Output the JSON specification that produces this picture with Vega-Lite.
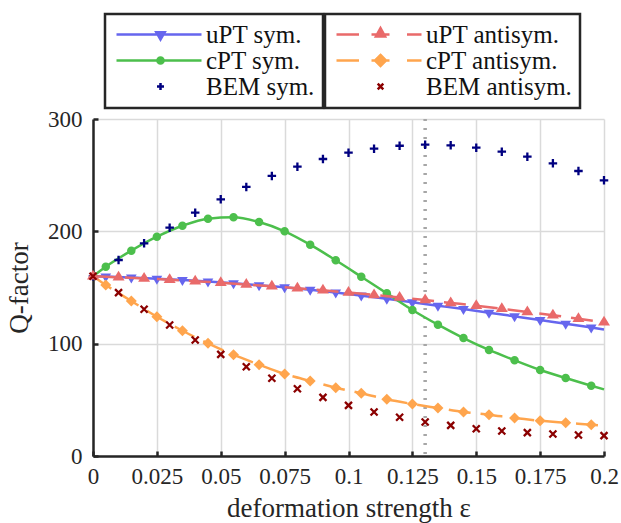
{
  "$schema": "https://vega.github.io/schema/vega-lite/v6.json",
  "width": 511,
  "height": 337,
  "autosize": {"type": "none"},
  "padding": {"left": 93, "top": 119, "right": 17, "bottom": 67},
  "background": "white",
  "config": {
    "font": "Liberation Serif, DejaVu Serif, serif",
    "view": {"stroke": null},
    "axis": {
      "labelFont": "Liberation Serif, DejaVu Serif, serif", "labelFontSize": 23, "labelColor": "#262626",
      "titleFont": "Liberation Serif, DejaVu Serif, serif", "titleFontSize": 27, "titleFontWeight": "normal", "titleColor": "#262626",
      "gridColor": "#dadada", "gridWidth": 1.5, "gridOpacity": 1,
      "domainColor": "#262626", "domainWidth": 2.5,
      "tickColor": "#262626", "tickWidth": 2.5, "tickSize": -5,
      "labelFlush": false, "labelOverlap": false
    },
    "axisX": {"labelPadding": 14, "titlePadding": 7},
    "axisY": {"labelPadding": 16, "titlePadding": 14},
    "legend": {
      "title": null, "orient": "none", "padding": 8, "strokeColor": "#262626", "strokeWidth": 2.5, "fillColor": "white",
      "labelFont": "Liberation Serif, DejaVu Serif, serif", "labelFontSize": 25, "labelColor": "#111111",
      "labelOffset": 68, "rowPadding": 0, "symbolSize": 400, "symbolStrokeWidth": 2.5, "symbolOpacity": 1, "labelLimit": 0
    }
  },
  "datasets": {
    "marker": [{"eps": 0.13}],
    "model": [
      {"series": "uPT sym.", "eps": 0, "Q": 160},
      {"series": "uPT sym.", "eps": 0.005, "Q": 159.7},
      {"series": "uPT sym.", "eps": 0.015, "Q": 158.8},
      {"series": "uPT sym.", "eps": 0.025, "Q": 157.8},
      {"series": "uPT sym.", "eps": 0.035, "Q": 156.6},
      {"series": "uPT sym.", "eps": 0.045, "Q": 155.3},
      {"series": "uPT sym.", "eps": 0.055, "Q": 153.8},
      {"series": "uPT sym.", "eps": 0.065, "Q": 152.1},
      {"series": "uPT sym.", "eps": 0.075, "Q": 150.2},
      {"series": "uPT sym.", "eps": 0.085, "Q": 148.1},
      {"series": "uPT sym.", "eps": 0.095, "Q": 145.6},
      {"series": "uPT sym.", "eps": 0.105, "Q": 142.8},
      {"series": "uPT sym.", "eps": 0.115, "Q": 139.9},
      {"series": "uPT sym.", "eps": 0.125, "Q": 136.8},
      {"series": "uPT sym.", "eps": 0.135, "Q": 133.8},
      {"series": "uPT sym.", "eps": 0.145, "Q": 130.8},
      {"series": "uPT sym.", "eps": 0.155, "Q": 127.6},
      {"series": "uPT sym.", "eps": 0.165, "Q": 124.3},
      {"series": "uPT sym.", "eps": 0.175, "Q": 121.0},
      {"series": "uPT sym.", "eps": 0.185, "Q": 117.8},
      {"series": "uPT sym.", "eps": 0.195, "Q": 114.4},
      {"series": "uPT sym.", "eps": 0.2, "Q": 112.7},
      {"series": "cPT sym.", "eps": 0, "Q": 160},
      {"series": "cPT sym.", "eps": 0.005, "Q": 168.5},
      {"series": "cPT sym.", "eps": 0.015, "Q": 182.8},
      {"series": "cPT sym.", "eps": 0.025, "Q": 195.2},
      {"series": "cPT sym.", "eps": 0.035, "Q": 205.0},
      {"series": "cPT sym.", "eps": 0.045, "Q": 211.3},
      {"series": "cPT sym.", "eps": 0.055, "Q": 212.5},
      {"series": "cPT sym.", "eps": 0.065, "Q": 208.3},
      {"series": "cPT sym.", "eps": 0.075, "Q": 200.0},
      {"series": "cPT sym.", "eps": 0.085, "Q": 188.1},
      {"series": "cPT sym.", "eps": 0.095, "Q": 174.2},
      {"series": "cPT sym.", "eps": 0.105, "Q": 159.6},
      {"series": "cPT sym.", "eps": 0.115, "Q": 144.8},
      {"series": "cPT sym.", "eps": 0.125, "Q": 130.0},
      {"series": "cPT sym.", "eps": 0.135, "Q": 116.9},
      {"series": "cPT sym.", "eps": 0.145, "Q": 105.0},
      {"series": "cPT sym.", "eps": 0.155, "Q": 94.4},
      {"series": "cPT sym.", "eps": 0.165, "Q": 85.2},
      {"series": "cPT sym.", "eps": 0.175, "Q": 76.6},
      {"series": "cPT sym.", "eps": 0.185, "Q": 69.4},
      {"series": "cPT sym.", "eps": 0.195, "Q": 62.6},
      {"series": "cPT sym.", "eps": 0.2, "Q": 59.3},
      {"series": "uPT antisym.", "eps": 0, "Q": 160},
      {"series": "uPT antisym.", "eps": 0.01, "Q": 159.1},
      {"series": "uPT antisym.", "eps": 0.02, "Q": 158.1},
      {"series": "uPT antisym.", "eps": 0.03, "Q": 156.9},
      {"series": "uPT antisym.", "eps": 0.04, "Q": 155.6},
      {"series": "uPT antisym.", "eps": 0.05, "Q": 154.3},
      {"series": "uPT antisym.", "eps": 0.06, "Q": 152.7},
      {"series": "uPT antisym.", "eps": 0.07, "Q": 151.1},
      {"series": "uPT antisym.", "eps": 0.08, "Q": 149.4},
      {"series": "uPT antisym.", "eps": 0.09, "Q": 147.5},
      {"series": "uPT antisym.", "eps": 0.1, "Q": 145.5},
      {"series": "uPT antisym.", "eps": 0.11, "Q": 143.4},
      {"series": "uPT antisym.", "eps": 0.12, "Q": 141.2},
      {"series": "uPT antisym.", "eps": 0.13, "Q": 138.8},
      {"series": "uPT antisym.", "eps": 0.14, "Q": 136.3},
      {"series": "uPT antisym.", "eps": 0.15, "Q": 133.8},
      {"series": "uPT antisym.", "eps": 0.16, "Q": 131.0},
      {"series": "uPT antisym.", "eps": 0.17, "Q": 128.2},
      {"series": "uPT antisym.", "eps": 0.18, "Q": 125.3},
      {"series": "uPT antisym.", "eps": 0.19, "Q": 122.2},
      {"series": "uPT antisym.", "eps": 0.2, "Q": 119.0},
      {"series": "cPT antisym.", "eps": 0, "Q": 160},
      {"series": "cPT antisym.", "eps": 0.005, "Q": 152.2},
      {"series": "cPT antisym.", "eps": 0.015, "Q": 138.0},
      {"series": "cPT antisym.", "eps": 0.025, "Q": 124.0},
      {"series": "cPT antisym.", "eps": 0.035, "Q": 111.5},
      {"series": "cPT antisym.", "eps": 0.045, "Q": 100.3},
      {"series": "cPT antisym.", "eps": 0.055, "Q": 90.2},
      {"series": "cPT antisym.", "eps": 0.065, "Q": 81.3},
      {"series": "cPT antisym.", "eps": 0.075, "Q": 73.0},
      {"series": "cPT antisym.", "eps": 0.085, "Q": 66.8},
      {"series": "cPT antisym.", "eps": 0.095, "Q": 60.8},
      {"series": "cPT antisym.", "eps": 0.105, "Q": 55.8},
      {"series": "cPT antisym.", "eps": 0.115, "Q": 50.5},
      {"series": "cPT antisym.", "eps": 0.125, "Q": 46.3},
      {"series": "cPT antisym.", "eps": 0.135, "Q": 42.7},
      {"series": "cPT antisym.", "eps": 0.145, "Q": 39.2},
      {"series": "cPT antisym.", "eps": 0.155, "Q": 36.8},
      {"series": "cPT antisym.", "eps": 0.165, "Q": 33.8},
      {"series": "cPT antisym.", "eps": 0.175, "Q": 31.4},
      {"series": "cPT antisym.", "eps": 0.185, "Q": 29.6},
      {"series": "cPT antisym.", "eps": 0.195, "Q": 27.9},
      {"series": "cPT antisym.", "eps": 0.2, "Q": 27.0}
    ],
    "bem": [
      {"series": "BEM sym.", "eps": 0, "Q": 160},
      {"series": "BEM sym.", "eps": 0.01, "Q": 174.5},
      {"series": "BEM sym.", "eps": 0.02, "Q": 189.3},
      {"series": "BEM sym.", "eps": 0.03, "Q": 203.3},
      {"series": "BEM sym.", "eps": 0.04, "Q": 216.6},
      {"series": "BEM sym.", "eps": 0.05, "Q": 228.5},
      {"series": "BEM sym.", "eps": 0.06, "Q": 239.5},
      {"series": "BEM sym.", "eps": 0.07, "Q": 249.3},
      {"series": "BEM sym.", "eps": 0.08, "Q": 257.6},
      {"series": "BEM sym.", "eps": 0.09, "Q": 264.4},
      {"series": "BEM sym.", "eps": 0.1, "Q": 270.0},
      {"series": "BEM sym.", "eps": 0.11, "Q": 273.6},
      {"series": "BEM sym.", "eps": 0.12, "Q": 276.2},
      {"series": "BEM sym.", "eps": 0.13, "Q": 277.1},
      {"series": "BEM sym.", "eps": 0.14, "Q": 276.6},
      {"series": "BEM sym.", "eps": 0.15, "Q": 274.5},
      {"series": "BEM sym.", "eps": 0.16, "Q": 270.9},
      {"series": "BEM sym.", "eps": 0.17, "Q": 266.5},
      {"series": "BEM sym.", "eps": 0.18, "Q": 260.5},
      {"series": "BEM sym.", "eps": 0.19, "Q": 253.7},
      {"series": "BEM sym.", "eps": 0.2, "Q": 245.4},
      {"series": "BEM antisym.", "eps": 0, "Q": 160},
      {"series": "BEM antisym.", "eps": 0.01, "Q": 145.4},
      {"series": "BEM antisym.", "eps": 0.02, "Q": 130.6},
      {"series": "BEM antisym.", "eps": 0.03, "Q": 116.6},
      {"series": "BEM antisym.", "eps": 0.04, "Q": 103.3},
      {"series": "BEM antisym.", "eps": 0.05, "Q": 90.5},
      {"series": "BEM antisym.", "eps": 0.06, "Q": 79.5},
      {"series": "BEM antisym.", "eps": 0.07, "Q": 69.2},
      {"series": "BEM antisym.", "eps": 0.08, "Q": 59.9},
      {"series": "BEM antisym.", "eps": 0.09, "Q": 52.2},
      {"series": "BEM antisym.", "eps": 0.1, "Q": 45.1},
      {"series": "BEM antisym.", "eps": 0.11, "Q": 39.2},
      {"series": "BEM antisym.", "eps": 0.12, "Q": 34.5},
      {"series": "BEM antisym.", "eps": 0.13, "Q": 30.3},
      {"series": "BEM antisym.", "eps": 0.14, "Q": 27.3},
      {"series": "BEM antisym.", "eps": 0.15, "Q": 24.3},
      {"series": "BEM antisym.", "eps": 0.16, "Q": 22.3},
      {"series": "BEM antisym.", "eps": 0.17, "Q": 20.8},
      {"series": "BEM antisym.", "eps": 0.18, "Q": 19.6},
      {"series": "BEM antisym.", "eps": 0.19, "Q": 18.7},
      {"series": "BEM antisym.", "eps": 0.2, "Q": 18.1}
    ]
  },
  "encoding": {
    "x": {"field": "eps", "type": "quantitative", "title": "deformation strength ε", "scale": {"domain": [0, 0.2], "nice": false}, "axis": {"values": [0, 0.025, 0.05, 0.075, 0.1, 0.125, 0.15, 0.175, 0.2], "format": ".4~g"}},
    "y": {"field": "Q", "type": "quantitative", "title": "Q-factor", "scale": {"domain": [0, 300], "nice": false}, "axis": {"values": [0, 100, 200, 300]}},
    "color": {"field": "series", "type": "nominal", "legend": null, "scale": {"domain": ["uPT sym.", "cPT sym.", "BEM sym.", "uPT antisym.", "cPT antisym.", "BEM antisym."], "range": ["#6666ee", "#4cbf4c", "#000080", "#e96a6a", "#ffa54d", "#8b0000"]}}
  },
  "layer": [
    {
      "data": {"name": "marker"},
      "mark": {"type": "rule", "color": "#a6a6a6", "strokeWidth": 3.5, "strokeDash": [2, 7]},
      "encoding": {"y": null, "color": null}
    },
    {
      "data": {"name": "model"},
      "transform": [{"filter": "datum.series === 'uPT sym.' || datum.series === 'cPT sym.'"}],
      "mark": {"type": "line", "strokeWidth": 2.5, "interpolate": "monotone"}
    },
    {
      "data": {"name": "model"},
      "transform": [{"filter": "datum.series === 'uPT sym.' && datum.eps > 0.001 && datum.eps < 0.1999"}],
      "mark": {"type": "point", "filled": true, "size": 100, "opacity": 1, "strokeWidth": 0, "shape": "M-1.07,-0.6L1.07,-0.6L0,1.2Z"}
    },
    {
      "data": {"name": "model"},
      "transform": [{"filter": "datum.series === 'cPT sym.' && datum.eps > 0.001 && datum.eps < 0.1999"}],
      "mark": {"type": "point", "filled": true, "size": 100, "opacity": 1, "strokeWidth": 0, "shape": "M-0.85,0A0.85,0.85 0 1,0 0.85,0A0.85,0.85 0 1,0 -0.85,0Z"}
    },
    {
      "data": {"name": "bem"},
      "transform": [{"filter": "datum.series === 'BEM sym.'"}],
      "mark": {"type": "point", "filled": false, "size": 100, "opacity": 1, "strokeWidth": 2.3, "shape": "M-0.85,0H0.85M0,-0.85V0.85"}
    },
    {
      "data": {"name": "model"},
      "transform": [{"filter": "datum.series === 'uPT antisym.' || datum.series === 'cPT antisym.'"}],
      "mark": {"type": "line", "strokeWidth": 2.5, "interpolate": "monotone", "strokeDash": [22, 10]}
    },
    {
      "data": {"name": "model"},
      "transform": [{"filter": "datum.series === 'uPT antisym.'"}],
      "mark": {"type": "point", "filled": true, "size": 100, "opacity": 1, "strokeWidth": 0, "shape": "M-1.2,0.65L1.2,0.65L0,-1.3Z"}
    },
    {
      "data": {"name": "model"},
      "transform": [{"filter": "datum.series === 'cPT antisym.' && datum.eps > 0.001 && datum.eps < 0.1999"}],
      "mark": {"type": "point", "filled": true, "size": 100, "opacity": 1, "strokeWidth": 0, "shape": "M0,-1.1L1.1,0L0,1.1L-1.1,0Z"}
    },
    {
      "data": {"name": "bem"},
      "transform": [{"filter": "datum.series === 'BEM antisym.'"}],
      "mark": {"type": "point", "filled": false, "size": 100, "opacity": 1, "strokeWidth": 2.3, "shape": "M-0.7,-0.7L0.7,0.7M-0.7,0.7L0.7,-0.7"}
    },
    {
      "data": {"name": "bem"},
      "transform": [{"filter": "datum.eps < 0"}],
      "mark": {"type": "point", "filled": true, "opacity": 1, "strokeWidth": 2.5},
      "encoding": {
        "color": null,
        "fill": {"field": "series", "type": "nominal", "scale": {"domain": ["uPT sym.", "cPT sym.", "BEM sym."], "range": ["#6666ee", "#4cbf4c", "#000080"]}, "legend": {"legendX": 12, "legendY": -105}},
        "stroke": {"field": "series", "type": "nominal", "scale": {"domain": ["uPT sym.", "cPT sym.", "BEM sym."], "range": ["#6666ee", "#4cbf4c", "#000080"]}, "legend": {"legendX": 12, "legendY": -105}},
        "shape": {"field": "series", "type": "nominal", "scale": {"domain": ["uPT sym.", "cPT sym.", "BEM sym."], "range": ["M-0.9,0H7.6M3.08,-0.22L3.92,-0.22L3.5,0.5Z", "M-0.9,0H7.6M3.19,0A0.31,0.31 0 1,0 3.81,0A0.31,0.31 0 1,0 3.19,0Z", "M3.15,0H3.85M3.5,-0.35V0.35"]}, "legend": {"legendX": 12, "legendY": -105}}
      }
    },
    {
      "data": {"name": "bem"},
      "transform": [{"filter": "datum.eps < 0"}],
      "mark": {"type": "point", "filled": true, "opacity": 1, "strokeWidth": 2.5},
      "encoding": {
        "color": null,
        "fill": {"field": "series", "type": "nominal", "scale": {"domain": ["uPT antisym.", "cPT antisym.", "BEM antisym."], "range": ["#e96a6a", "#ffa54d", "#8b0000"]}, "legend": {"legendX": 232, "legendY": -105}},
        "stroke": {"field": "series", "type": "nominal", "scale": {"domain": ["uPT antisym.", "cPT antisym.", "BEM antisym."], "range": ["#e96a6a", "#ffa54d", "#8b0000"]}, "legend": {"legendX": 232, "legendY": -105}},
        "shape": {"field": "series", "type": "nominal", "scale": {"domain": ["uPT antisym.", "cPT antisym.", "BEM antisym."], "range": ["M-0.9,0H1.35M2.6,0H4.4M6.15,0H7.6M3.04,0.21L3.96,0.21L3.5,-0.64Z", "M-0.9,0H1.35M2.6,0H4.4M6.15,0H7.6M3.5,-0.55L4.05,0L3.5,0.55L2.95,0Z", "M3.22,-0.28L3.78,0.28M3.22,0.28L3.78,-0.28"]}, "legend": {"legendX": 232, "legendY": -105}}
      }
    }
  ],
  "resolve": {"scale": {"fill": "independent", "stroke": "independent", "shape": "independent"}}
}
